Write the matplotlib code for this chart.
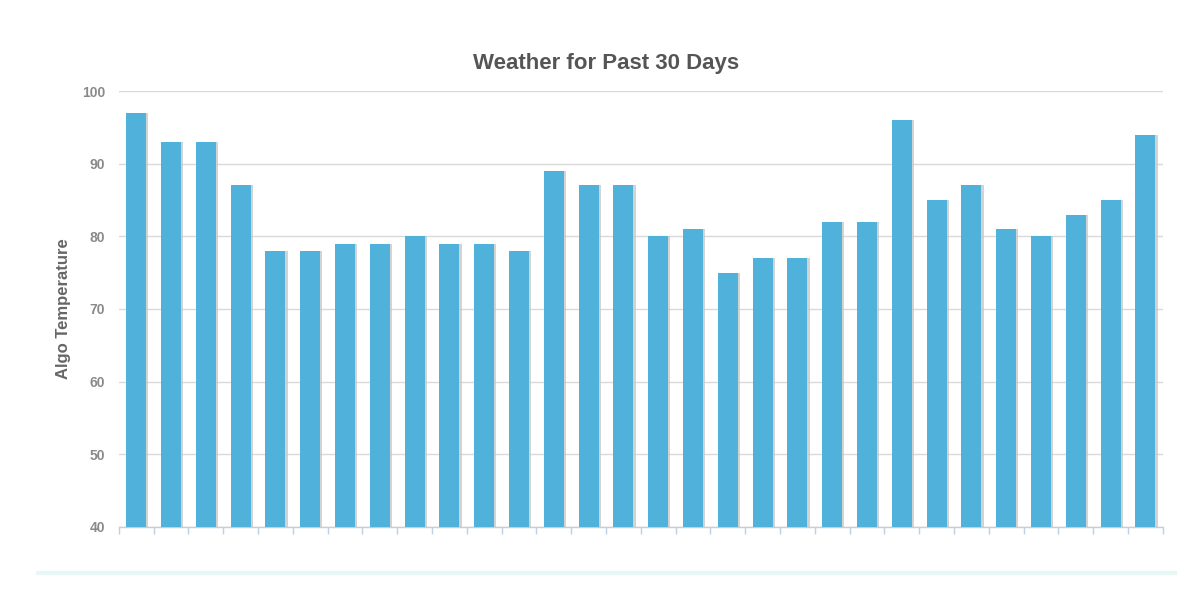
import matplotlib
matplotlib.use("Agg")
import matplotlib.pyplot as plt
import numpy as np
from matplotlib.lines import Line2D

plt.rcParams["font.family"] = ["Liberation Sans", "DejaVu Sans"]

title = "Weather for Past 30 Days"
ylabel = "Algo Temperature"
days = list(range(1, 31))
temps = [97, 93, 93, 87, 78, 78, 79, 79, 80, 79, 79, 78, 89, 87, 87,
         80, 81, 75, 77, 77, 82, 82, 96, 85, 87, 81, 80, 83, 85, 94]
yticks = [40, 50, 60, 70, 80, 90, 100]

fig = plt.figure(figsize=(12, 5.94), dpi=100)
ax = fig.add_axes([0.099, 0.1128, 0.87, 0.734])

x = np.arange(len(days))
w = 0.58
# shadow
ax.bar(x + 0.06, np.array(temps) - 40, bottom=40, width=w, color="#c8c8c8",
       alpha=0.8, zorder=2, linewidth=0)
ax.bar(x, np.array(temps) - 40, bottom=40, width=w, color="#50b1da",
       zorder=3, linewidth=0)

ax.set_xlim(-0.5, len(days) - 0.5)
ax.set_ylim(40, 100)
ax.set_yticks(yticks)
ax.set_yticklabels([str(t) for t in yticks], color="#8a8a8a", fontsize=10,
                   fontweight="bold")
ax.yaxis.grid(True, color="#d9d9d9", linewidth=1, zorder=0)
ax.set_axisbelow(True)
ax.tick_params(axis="y", length=0, pad=10)

ax.set_xticks(np.arange(-0.5, len(days), 1.0))
ax.set_xticklabels([])
ax.tick_params(axis="x", length=5, color="#c0d0e0", width=1)

for s in ["top", "right", "left"]:
    ax.spines[s].set_visible(False)
ax.spines["bottom"].set_color("#c0d0e0")
ax.spines["bottom"].set_linewidth(1)

ax.set_ylabel(ylabel, fontsize=12, fontweight="bold", color="#666666", labelpad=8)
fig.text(0.505, 0.893, title, ha="center", va="center", fontsize=16,
         fontweight="bold", color="#555555")

fig.add_artist(Line2D([0.032, 0.979], [1 - 573 / 594] * 2, color="#e6f7f6",
                      linewidth=3, transform=fig.transFigure))

fig.savefig("out.png", dpi=100)
